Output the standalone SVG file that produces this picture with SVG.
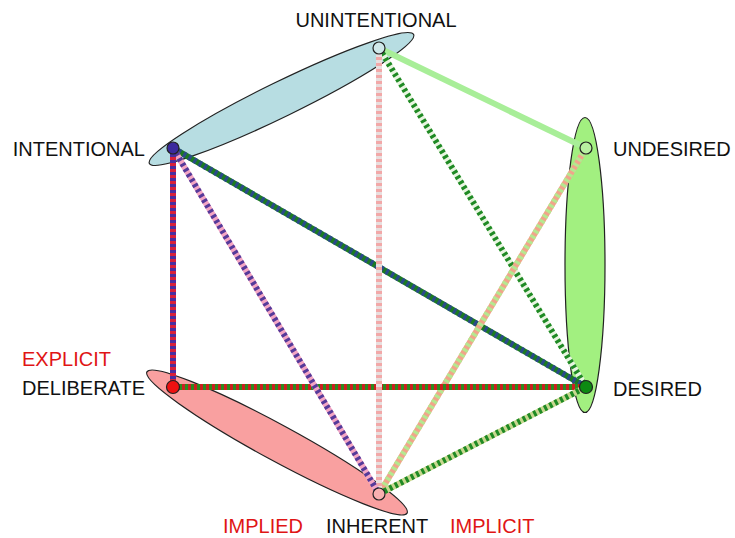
<svg xmlns="http://www.w3.org/2000/svg" width="735" height="538" viewBox="0 0 735 538">
<style>
  .lbl { font-family: "Liberation Sans", Arial, sans-serif; font-size: 20px; fill: #111; }
  .red { fill: #e01515; }
  .blob { stroke: #222; stroke-width: 1.2; }
  .base { stroke-width: 6; fill: none; }
  .dash { stroke-width: 6; fill: none; stroke-dasharray: 3 3; }
  .node { stroke: #222; stroke-width: 1.2; }
</style>
<rect width="735" height="538" fill="#ffffff"/>

<g id="regions">
  <ellipse id="blob-intent" class="blob" cx="281.5" cy="99" rx="147" ry="17.5" transform="rotate(-26 281.5 99)" fill="#b7dde2"/>
  <ellipse id="blob-desire" class="blob" cx="585" cy="265" rx="20" ry="147.5" fill="#a2f080"/>
  <ellipse id="blob-explicit" class="blob" cx="277" cy="442.5" rx="148" ry="18" transform="rotate(28.5 277 442.5)" fill="#f9a0a0"/>
</g>

<g id="connectors">
  <g id="e-unint-undes">
    <line class="base" x1="379" y1="48" x2="586" y2="148" stroke="#a8ee98"/>
  </g>
  <g id="e-unint-des">
    <line class="base" x1="379" y1="48" x2="586" y2="387" stroke="#e8f5e0"/>
    <line class="dash" x1="379" y1="48" x2="586" y2="387" stroke="#1f8a24" stroke-dasharray="4 2.5"/>
  </g>
  <g id="e-int-des">
    <line class="base" x1="173" y1="148" x2="586" y2="387" stroke="#1c7a22"/>
    <line class="dash" x1="173" y1="148" x2="586" y2="387" stroke="#2a4a8a"/>
  </g>
  <g id="e-undes-inh">
    <line class="base" x1="586" y1="148" x2="379" y2="494" stroke="#f0a58a"/>
    <line class="dash" x1="586" y1="148" x2="379" y2="494" stroke="#b5e890"/>
  </g>
  <g id="e-delib-des">
    <line class="base" x1="173" y1="387" x2="586" y2="387" stroke="#cc2020"/>
    <line class="dash" x1="173" y1="387" x2="586" y2="387" stroke="#2e8a1e"/>
  </g>
  <g id="e-unint-inh">
    <line class="base" x1="379" y1="48" x2="379" y2="494" stroke="#f2a8a8"/>
    <line class="dash" x1="379" y1="48" x2="379" y2="494" stroke="#e8dede"/>
  </g>
  <g id="e-int-inh">
    <line class="base" x1="173" y1="148" x2="379" y2="494" stroke="#f4a6c4"/>
    <line class="dash" x1="173" y1="148" x2="379" y2="494" stroke="#553a9a"/>
  </g>
  <g id="e-inh-des">
    <line class="base" x1="379" y1="494" x2="586" y2="387" stroke="#c8d890"/>
    <line class="dash" x1="379" y1="494" x2="586" y2="387" stroke="#1f8a24" stroke-dasharray="4 2.5"/>
  </g>
  <g id="e-int-delib">
    <line class="base" x1="173" y1="148" x2="173" y2="387" stroke="#d8203a"/>
    <line class="dash" x1="173" y1="148" x2="173" y2="387" stroke="#4a2ea0"/>
  </g>
</g>

<g id="n-unintentional">
  <circle class="node" cx="379" cy="48" r="6" fill="#cfe8ea"/>
  <text class="lbl" x="376" y="27" text-anchor="middle">UNINTENTIONAL</text>
</g>
<g id="n-intentional">
  <circle class="node" cx="173" cy="148" r="6" fill="#3b2a9e"/>
  <text class="lbl" x="145" y="156" text-anchor="end">INTENTIONAL</text>
</g>
<g id="n-undesired">
  <circle class="node" cx="586" cy="148" r="6" fill="#b8f0a0"/>
  <text class="lbl" x="613" y="156">UNDESIRED</text>
</g>
<g id="n-desired">
  <circle class="node" cx="586" cy="387" r="6.5" fill="#0d8a12"/>
  <text class="lbl" x="613" y="396">DESIRED</text>
</g>
<g id="n-deliberate">
  <circle class="node" cx="173" cy="387" r="6.5" fill="#ee1111"/>
  <text class="lbl red" x="22" y="366">EXPLICIT</text>
  <text class="lbl" x="22" y="395">DELIBERATE</text>
</g>
<g id="n-inherent">
  <circle class="node" cx="379" cy="494" r="6" fill="#f9b0b0"/>
  <text class="lbl red" x="223" y="533">IMPLIED</text>
  <text class="lbl" x="326" y="533">INHERENT</text>
  <text class="lbl red" x="450" y="533">IMPLICIT</text>
</g>
</svg>
